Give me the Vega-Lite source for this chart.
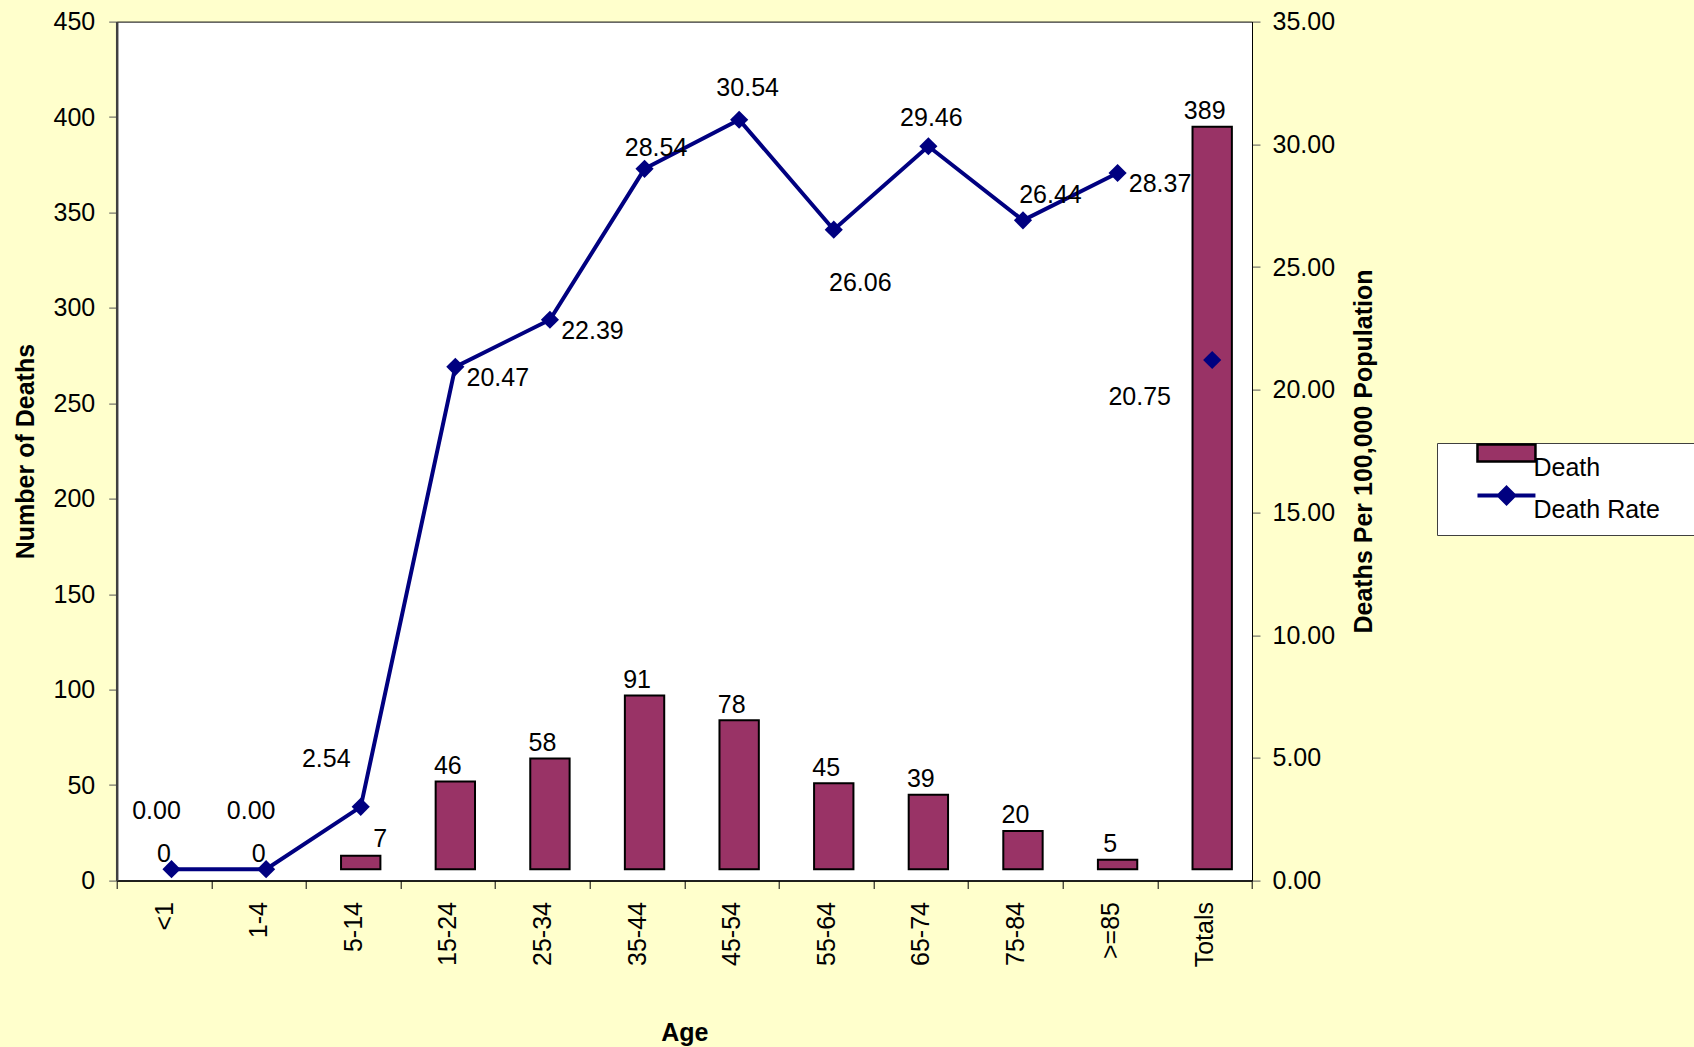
{
  "$schema": "https://vega.github.io/schema/vega-lite/v6.json",
  "width": 1135.3,
  "height": 858.9,
  "autosize": {"type": "none"},
  "padding": {"left": 116.7, "top": 21.6, "right": 442, "bottom": 166.5},
  "background": "#FFFFCC",
  "config": {
    "view": {"fill": "white", "stroke": "black", "strokeWidth": 1},
    "font": "Liberation Sans",
    "text": {"font": "Liberation Sans", "fontSize": 25, "color": "black"}
  },
  "data": {"values": [
    {"Age": "<1", "Death": 0, "Rate": 0.00},
    {"Age": "1-4", "Death": 0, "Rate": 0.00},
    {"Age": "5-14", "Death": 7, "Rate": 2.54},
    {"Age": "15-24", "Death": 46, "Rate": 20.47},
    {"Age": "25-34", "Death": 58, "Rate": 22.39},
    {"Age": "35-44", "Death": 91, "Rate": 28.54},
    {"Age": "45-54", "Death": 78, "Rate": 30.54},
    {"Age": "55-64", "Death": 45, "Rate": 26.06},
    {"Age": "65-74", "Death": 39, "Rate": 29.46},
    {"Age": "75-84", "Death": 20, "Rate": 26.44},
    {"Age": ">=85", "Death": 5, "Rate": 28.37},
    {"Age": "Totals", "Death": 389, "Rate": 20.75}
  ]},
  "layer": [
    {
      "layer": [
        {
          "transform": [{"filter": "datum.Death > 0"}],
          "mark": {"type": "bar", "width": {"band": 0.416}, "xOffset": 7.5, "x2Offset": 7.5, "yOffset": -11.3, "y2Offset": -11.3, "stroke": "black", "strokeWidth": 2},
          "encoding": {
            "x": {
              "field": "Age", "type": "nominal",
              "scale": {"type": "band", "domain": ["<1", "1-4", "5-14", "15-24", "25-34", "35-44", "45-54", "55-64", "65-74", "75-84", ">=85", "Totals"], "paddingInner": 0, "paddingOuter": 0},
              "axis": {
                "title": "Age", "titleFont": "Liberation Sans", "titleFontSize": 25, "titleFontWeight": "bold", "titleColor": "black", "titlePadding": 54,
                "labelAngle": -90, "labelFont": "Liberation Sans", "labelFontSize": 25, "labelColor": "black", "labelPadding": 13, "labelLimit": 500,
                "tickBand": "extent", "tickSize": 8, "tickColor": "black", "domainColor": "black", "domainWidth": 1.5, "grid": false
              }
            },
            "y": {
              "field": "Death", "type": "quantitative",
              "scale": {"domain": [0, 450], "nice": false},
              "axis": {
                "title": "Number of Deaths", "values": [0, 50, 100, 150, 200, 250, 300, 350, 400, 450],
                "titleFont": "Liberation Sans", "titleFontSize": 25, "titleFontWeight": "bold", "titleColor": "black", "titlePadding": 14,
                "labelFont": "Liberation Sans", "labelFontSize": 25, "labelColor": "black", "labelPadding": 14, "labelOverlap": false,
                "tickSize": 8, "tickColor": "#555555", "domainColor": "#404040", "domainWidth": 2.5, "grid": false
              }
            },
            "color": {
              "datum": "Death", "type": "nominal",
              "scale": {"domain": ["Death", "Death Rate"], "range": ["#993366", "#000080"]},
              "legend": {
                "orient": "none", "legendX": 1320.3, "legendY": 421.4,
                "title": "\u00a0", "titleOrient": "right", "titlePadding": 40, "titleFontSize": 10,
                "fillColor": "white", "strokeColor": "#404040", "padding": 12,
                "labelFont": "Liberation Sans", "labelFontSize": 25, "labelColor": "black", "labelBaseline": "middle", "labelOffset": 59.5, "labelLimit": 500,
                "symbolSize": 1156, "rowPadding": -1.5,
                "symbolType": {"expr": "datum.value === 'Death' ? 'M0.94,-1.35H4.35V-0.35H0.94Z' : 'M0.94,-0.85H4.35M2.65,-1.3L3.1,-0.85L2.65,-0.4L2.2,-0.85Z'"},
                "symbolStrokeColor": {"expr": "datum.value === 'Death' ? 'black' : '#000080'"},
                "symbolStrokeWidth": {"expr": "datum.value === 'Death' ? 2.5 : 4"},
                "symbolOpacity": 1
              }
            }
          }
        },
        {
          "transform": [{"filter": "datum.Age !== '5-14'"}],
          "mark": {"type": "text", "align": "center", "baseline": "middle", "dy": -27, "fontSize": 25, "color": "black"},
          "encoding": {
            "x": {"field": "Age", "type": "nominal"},
            "y": {"field": "Death", "type": "quantitative", "scale": {"domain": [0, 450], "nice": false}},
            "text": {"field": "Death", "type": "quantitative"}
          }
        },
        {
          "transform": [{"filter": "datum.Age === '5-14'"}],
          "mark": {"type": "text", "align": "center", "baseline": "middle", "dx": 27, "dy": -28, "fontSize": 25, "color": "black"},
          "encoding": {
            "x": {"field": "Age", "type": "nominal"},
            "y": {"field": "Death", "type": "quantitative", "scale": {"domain": [0, 450], "nice": false}},
            "text": {"field": "Death", "type": "quantitative"}
          }
        }
      ]
    },
    {
      "layer": [
        {
          "transform": [{"filter": "datum.Age !== 'Totals'"}],
          "mark": {"type": "line", "color": "#000080", "strokeWidth": 4, "xOffset": 7.5, "yOffset": -11.3},
          "encoding": {
            "x": {"field": "Age", "type": "nominal"},
            "y": {
              "field": "Rate", "type": "quantitative",
              "scale": {"domain": [0, 35], "nice": false},
              "axis": {
                "orient": "right", "title": "Deaths Per 100,000 Population", "titleAngle": 270,
                "values": [0, 5, 10, 15, 20, 25, 30, 35], "format": ".2f",
                "titleFont": "Liberation Sans", "titleFontSize": 25, "titleFontWeight": "bold", "titleColor": "black", "titlePadding": 41.5,
                "labelFont": "Liberation Sans", "labelFontSize": 25, "labelColor": "black", "labelPadding": 12, "labelOverlap": false,
                "tickSize": 8, "tickColor": "#555555", "domainColor": "black", "domainWidth": 1, "grid": false
              }
            }
          }
        },
        {
          "mark": {"type": "point", "shape": "diamond", "filled": true, "color": "#000080", "size": 330, "opacity": 1, "xOffset": 7.5, "yOffset": -11.3},
          "encoding": {
            "x": {"field": "Age", "type": "nominal"},
            "y": {"field": "Rate", "type": "quantitative", "scale": {"domain": [0, 35], "nice": false}}
          }
        },
        {
          "transform": [{"filter": {"field": "Age", "oneOf": ["<1", "1-4"]}}],
          "mark": {"type": "text", "align": "center", "baseline": "middle", "dx": -7.5, "dy": -70, "fontSize": 25, "color": "black"},
          "encoding": {"x": {"field": "Age", "type": "nominal"}, "y": {"field": "Rate", "type": "quantitative", "scale": {"domain": [0, 35], "nice": false}}, "text": {"field": "Rate", "type": "quantitative", "format": ".2f"}}
        },
        {
          "transform": [{"filter": {"field": "Age", "oneOf": ["5-14"]}}],
          "mark": {"type": "text", "align": "center", "baseline": "middle", "dx": -27, "dy": -59, "fontSize": 25, "color": "black"},
          "encoding": {"x": {"field": "Age", "type": "nominal"}, "y": {"field": "Rate", "type": "quantitative", "scale": {"domain": [0, 35], "nice": false}}, "text": {"field": "Rate", "type": "quantitative", "format": ".2f"}}
        },
        {
          "transform": [{"filter": {"field": "Age", "oneOf": ["15-24", "25-34", ">=85"]}}],
          "mark": {"type": "text", "align": "center", "baseline": "middle", "dx": 50, "dy": 0, "fontSize": 25, "color": "black"},
          "encoding": {"x": {"field": "Age", "type": "nominal"}, "y": {"field": "Rate", "type": "quantitative", "scale": {"domain": [0, 35], "nice": false}}, "text": {"field": "Rate", "type": "quantitative", "format": ".2f"}}
        },
        {
          "transform": [{"filter": {"field": "Age", "oneOf": ["35-44"]}}],
          "mark": {"type": "text", "align": "center", "baseline": "middle", "dx": 19, "dy": -32, "fontSize": 25, "color": "black"},
          "encoding": {"x": {"field": "Age", "type": "nominal"}, "y": {"field": "Rate", "type": "quantitative", "scale": {"domain": [0, 35], "nice": false}}, "text": {"field": "Rate", "type": "quantitative", "format": ".2f"}}
        },
        {
          "transform": [{"filter": {"field": "Age", "oneOf": ["45-54"]}}],
          "mark": {"type": "text", "align": "center", "baseline": "middle", "dx": 16, "dy": -43.5, "fontSize": 25, "color": "black"},
          "encoding": {"x": {"field": "Age", "type": "nominal"}, "y": {"field": "Rate", "type": "quantitative", "scale": {"domain": [0, 35], "nice": false}}, "text": {"field": "Rate", "type": "quantitative", "format": ".2f"}}
        },
        {
          "transform": [{"filter": {"field": "Age", "oneOf": ["55-64"]}}],
          "mark": {"type": "text", "align": "center", "baseline": "middle", "dx": 34, "dy": 42, "fontSize": 25, "color": "black"},
          "encoding": {"x": {"field": "Age", "type": "nominal"}, "y": {"field": "Rate", "type": "quantitative", "scale": {"domain": [0, 35], "nice": false}}, "text": {"field": "Rate", "type": "quantitative", "format": ".2f"}}
        },
        {
          "transform": [{"filter": {"field": "Age", "oneOf": ["65-74"]}}],
          "mark": {"type": "text", "align": "center", "baseline": "middle", "dx": 10.5, "dy": -40, "fontSize": 25, "color": "black"},
          "encoding": {"x": {"field": "Age", "type": "nominal"}, "y": {"field": "Rate", "type": "quantitative", "scale": {"domain": [0, 35], "nice": false}}, "text": {"field": "Rate", "type": "quantitative", "format": ".2f"}}
        },
        {
          "transform": [{"filter": {"field": "Age", "oneOf": ["75-84"]}}],
          "mark": {"type": "text", "align": "center", "baseline": "middle", "dx": 35, "dy": -37, "fontSize": 25, "color": "black"},
          "encoding": {"x": {"field": "Age", "type": "nominal"}, "y": {"field": "Rate", "type": "quantitative", "scale": {"domain": [0, 35], "nice": false}}, "text": {"field": "Rate", "type": "quantitative", "format": ".2f"}}
        },
        {
          "transform": [{"filter": {"field": "Age", "oneOf": ["Totals"]}}],
          "mark": {"type": "text", "align": "center", "baseline": "middle", "dx": -65, "dy": 26, "fontSize": 25, "color": "black"},
          "encoding": {"x": {"field": "Age", "type": "nominal"}, "y": {"field": "Rate", "type": "quantitative", "scale": {"domain": [0, 35], "nice": false}}, "text": {"field": "Rate", "type": "quantitative", "format": ".2f"}}
        }
      ]
    }
  ],
  "resolve": {"scale": {"y": "independent"}}
}
